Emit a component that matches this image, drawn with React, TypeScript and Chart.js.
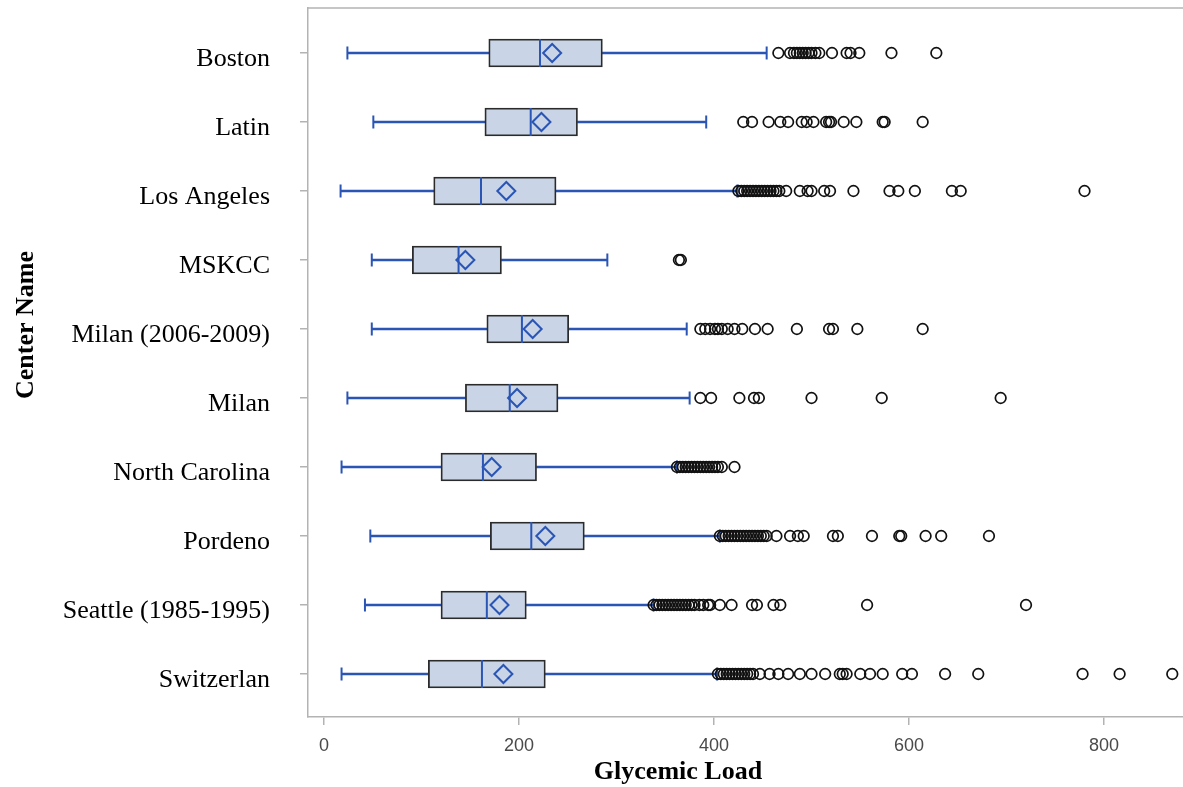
import React, { useEffect, useRef } from "react";
import { Chart, registerables } from "chart.js";

Chart.register(...registerables);

const centers = [
  "Boston",
  "Latin",
  "Los Angeles",
  "MSKCC",
  "Milan (2006-2009)",
  "Milan",
  "North Carolina",
  "Pordeno",
  "Seattle (1985-1995)",
  "Switzerlan",
];

const whiskerLow = [24, 50.6, 17, 49, 49, 24, 18, 47.5, 42, 18];
const q1 = [169, 165, 112.5, 90.6, 167, 145, 120, 170.6, 120, 107];
const median = [221.5, 212, 161, 138, 203, 190.5, 163, 212.6, 167, 162];
const mean = [234, 223, 187, 145, 214, 198, 172, 227, 180, 184];
const q3 = [285.5, 260, 238, 182, 251, 240, 218, 267, 207.5, 227];
const whiskerHigh = [454, 392, 424, 290.6, 372, 375, 362, 406, 338, 403];

const outBoston = [466, 478, 482, 485, 488, 491, 494, 497, 500, 504, 508, 521, 536, 540, 549, 582, 628];
const outLatin = [430, 439, 456, 468, 476, 490, 495, 502, 515, 518, 520, 533, 546, 573, 575, 614];
const outLosAngeles = [425, 428, 431, 434, 437, 440, 443, 446, 449, 452, 455, 458, 461, 464, 467, 474, 488, 496, 500, 513, 519, 543, 580, 589, 606, 644, 653, 780];
const outMSKCC = [364, 366];
const outMilan0609 = [386, 391, 396, 401, 404, 408, 414, 421, 429, 442, 455, 485, 518, 522, 547, 614];
const outMilan = [386, 397, 426, 441, 446, 500, 572, 694];
const outNorthCarolina = [362, 365, 368, 371, 374, 377, 380, 383, 386, 389, 392, 395, 398, 401, 404, 408, 421];
const outPordeno = [406, 409, 412, 415, 418, 421, 424, 427, 430, 433, 436, 439, 442, 445, 448, 451, 454, 464, 478, 486, 492, 522, 527, 562, 590, 592, 617, 633, 682];
const outSeattle = [338, 341, 344, 347, 350, 353, 356, 359, 362, 365, 368, 371, 374, 377, 380, 385, 389, 394, 396, 406, 418, 439, 444, 461, 468, 557, 720];
const outSwitzerlan = [404, 407, 410, 413, 416, 419, 422, 425, 428, 431, 434, 437, 440, 447, 457, 466, 476, 488, 500, 514, 529, 532, 536, 550, 560, 573, 593, 603, 637, 671, 778, 816, 870];

const outliers = [
  outBoston,
  outLatin,
  outLosAngeles,
  outMSKCC,
  outMilan0609,
  outMilan,
  outNorthCarolina,
  outPordeno,
  outSeattle,
  outSwitzerlan,
];

const xTicks = [0, 200, 400, 600, 800];

const BLUE = "#2a55b5";
const FRAME = "#b3b3b3";

const titlesPlugin = {
  id: "titlesFrame",
  afterDraw(chart: any) {
    const { ctx, chartArea } = chart;
    ctx.save();
    ctx.strokeStyle = FRAME;
    ctx.lineWidth = 1.5;
    ctx.beginPath();
    ctx.moveTo(chartArea.left, chartArea.top);
    ctx.lineTo(chartArea.right, chartArea.top);
    ctx.stroke();

    ctx.fillStyle = "#000";
    ctx.font = 'bold 26px "Liberation Serif"';
    ctx.textAlign = "center";
    ctx.textBaseline = "alphabetic";
    ctx.fillText("Glycemic Load", 678, 779);

    ctx.translate(33, 325);
    ctx.rotate(-Math.PI / 2);
    ctx.fillText("Center Name", 0, 0);
    ctx.restore();
  },
};

export default function App() {
  const ref = useRef<HTMLCanvasElement | null>(null);

  useEffect(() => {
    if (!ref.current) return;
    const idx = centers.map((_, i) => i);

    const chart = new Chart(ref.current, {
      type: "scatter",
      data: {
        datasets: [
          {
            type: "scatter",
            label: "Outliers",
            data: outliers.flatMap((arr, i) => arr.map((v) => ({ x: v, y: i }))),
            pointStyle: "circle",
            radius: 5.3,
            borderColor: "#111",
            backgroundColor: "rgba(0,0,0,0)",
            borderWidth: 1.7,
            order: 0,
          } as any,
          {
            type: "scatter",
            label: "Mean",
            data: idx.map((i) => ({ x: mean[i], y: i })),
            pointStyle: "rectRot",
            radius: 9,
            borderColor: BLUE,
            backgroundColor: "rgba(0,0,0,0)",
            borderWidth: 2,
            order: 1,
          } as any,
          {
            type: "scatter",
            label: "Median",
            data: idx.map((i) => ({ x: median[i], y: i })),
            pointStyle: "line",
            rotation: 90,
            radius: 14,
            borderColor: BLUE,
            borderWidth: 2,
            order: 2,
          } as any,
          {
            type: "scatter",
            label: "Caps",
            data: idx.flatMap((i) => [
              { x: whiskerLow[i], y: i },
              { x: whiskerHigh[i], y: i },
            ]),
            pointStyle: "line",
            rotation: 90,
            radius: 6.5,
            borderColor: BLUE,
            borderWidth: 2,
            order: 3,
          } as any,
          {
            type: "bar",
            label: "Box",
            indexAxis: "y",
            grouped: false,
            data: idx.map((i) => ({ x: [q1[i], q3[i]], y: i })),
            barThickness: 28,
            backgroundColor: "#c9d5e6",
            borderColor: "#2b2b2b",
            borderWidth: 1.8,
            borderSkipped: false,
            order: 4,
          } as any,
          {
            type: "bar",
            label: "Whisker low",
            indexAxis: "y",
            grouped: false,
            data: idx.map((i) => ({ x: [whiskerLow[i], q1[i]], y: i })),
            barThickness: 2,
            backgroundColor: BLUE,
            borderWidth: 0,
            order: 5,
          } as any,
          {
            type: "bar",
            label: "Whisker high",
            indexAxis: "y",
            grouped: false,
            data: idx.map((i) => ({ x: [q3[i], whiskerHigh[i]], y: i })),
            barThickness: 2,
            backgroundColor: BLUE,
            borderWidth: 0,
            order: 5,
          } as any,
        ],
      },
      options: {
        responsive: false,
        animation: false,
        layout: { autoPadding: false, padding: { top: 8, left: 0, right: 0, bottom: 0 } },
        plugins: {
          legend: { display: false },
          tooltip: { enabled: false },
        },
        scales: {
          x: {
            type: "linear",
            min: -16.41,
            max: 881,
            offset: false,
            afterBuildTicks: (scale: any) => {
              scale.ticks = xTicks.map((v) => ({ value: v }));
            },
            afterFit: (scale: any) => {
              scale.height = 70;
              scale.paddingLeft = 0;
              scale.paddingRight = 0;
            },
            grid: {
              offset: false,
              drawOnChartArea: false,
              drawTicks: true,
              tickLength: 8,
              color: FRAME,
              lineWidth: 1.5,
            },
            border: { display: true, color: FRAME, width: 1.5 },
            ticks: {
              padding: 10,
              color: "#4a4a4a",
              font: { family: '"Liberation Sans", Arial, sans-serif', size: 18 },
              maxRotation: 0,
            },
          },
          y: {
            type: "linear",
            reverse: true,
            min: -0.652,
            max: 9.623,
            offset: false,
            afterBuildTicks: (scale: any) => {
              scale.ticks = centers.map((_, i) => ({ value: i }));
            },
            afterFit: (scale: any) => {
              scale.width = 308;
              scale.paddingTop = 0;
              scale.paddingBottom = 0;
            },
            grid: {
              offset: false,
              drawOnChartArea: false,
              drawTicks: true,
              tickLength: 8,
              color: FRAME,
              lineWidth: 1.5,
            },
            border: { display: true, color: FRAME, width: 1.5 },
            ticks: {
              padding: 30,
              labelOffset: 6,
              color: "#000",
              font: { family: '"Liberation Serif", "Times New Roman", serif', size: 26 },
              callback: (v: any) => centers[Math.round(Number(v))] ?? "",
            },
          },
        },
      } as any,
      plugins: [titlesPlugin],
    });

    return () => chart.destroy();
  }, []);

  return (
    <div style={{ position: "absolute", left: 0, top: 0, width: 1183, height: 787, background: "#fff" }}>
      <canvas ref={ref} width={1183} height={787} style={{ display: "block" }} />
    </div>
  );
}
